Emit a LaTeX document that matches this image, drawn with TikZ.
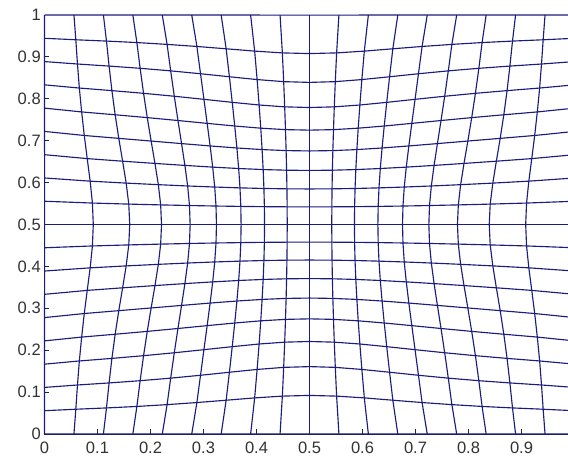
\documentclass[tikz,border=0pt]{standalone}
\usepackage{fontspec}
\setmainfont{Liberation Sans}
\definecolor{gridblue}{RGB}{28,28,125}
\begin{document}
\begin{tikzpicture}[x=397.5pt,y=314.25pt,
  declare function={
    gw(\p,\q)=pow(max((1-4*(\p)*(\p))*(1-4*(\q)*(\q)),0.0001),0.7)/(1+62.4*(\p)*(\p)*(\q)*(\q));
    mx(\p,\q)=0.5+(\p)*(1-0.245*gw(\p,\q));
  },
  gridline/.style={gridblue,line width=0.85pt,line join=round},
  axisline/.style={black!85,line width=0.75pt},
  ticklabel/.style={inner sep=0pt,font=\fontsize{12.4}{14}\selectfont,text=black!80}]
\clip (-0.08396,-0.05012) rectangle (0.98774,1.0358);
\fill[white] (-0.08396,-0.05012) rectangle (0.98774,1.0358);
% axes and ticks (below the data)
\draw[axisline] (0,0) -- (0,1);
\draw[axisline] (0,0) -- (0.98774,0);
\foreach \n in {1,...,9}{
  \draw[axisline] (\n/10,0) -- (\n/10,0.0119);
  \draw[axisline] (0,\n/10) -- (0.0094,\n/10);
}
% tick labels
\node[ticklabel,anchor=east] (yl0) at (-0.0066,0) {0};
\node[ticklabel,anchor=east] (yl10) at (-0.0066,1) {1};
\node[ticklabel,anchor=north] (xl0) at (0,-0.0179) {0};
\foreach \n in {1,...,9}{
  \node[ticklabel,anchor=east] (yl\n) at (-0.0066,\n/10) {0.\n};
  \node[ticklabel,anchor=north] (xl\n) at (\n/10,-0.0179) {0.\n};
}
% distorted grid
\foreach \i in {0,...,18}{
  \pgfmathsetmacro\uu{\i/18-0.5}
  \draw[gridline] plot[variable=\k, samples at={0,...,18}] ({mx(\uu,\k/18-0.5)},{mx(\k/18-0.5,\uu)});
  \draw[gridline] plot[variable=\k, samples at={0,...,18}] ({mx(\k/18-0.5,\uu)},{mx(\uu,\k/18-0.5)});
}
\end{tikzpicture}
\end{document}
